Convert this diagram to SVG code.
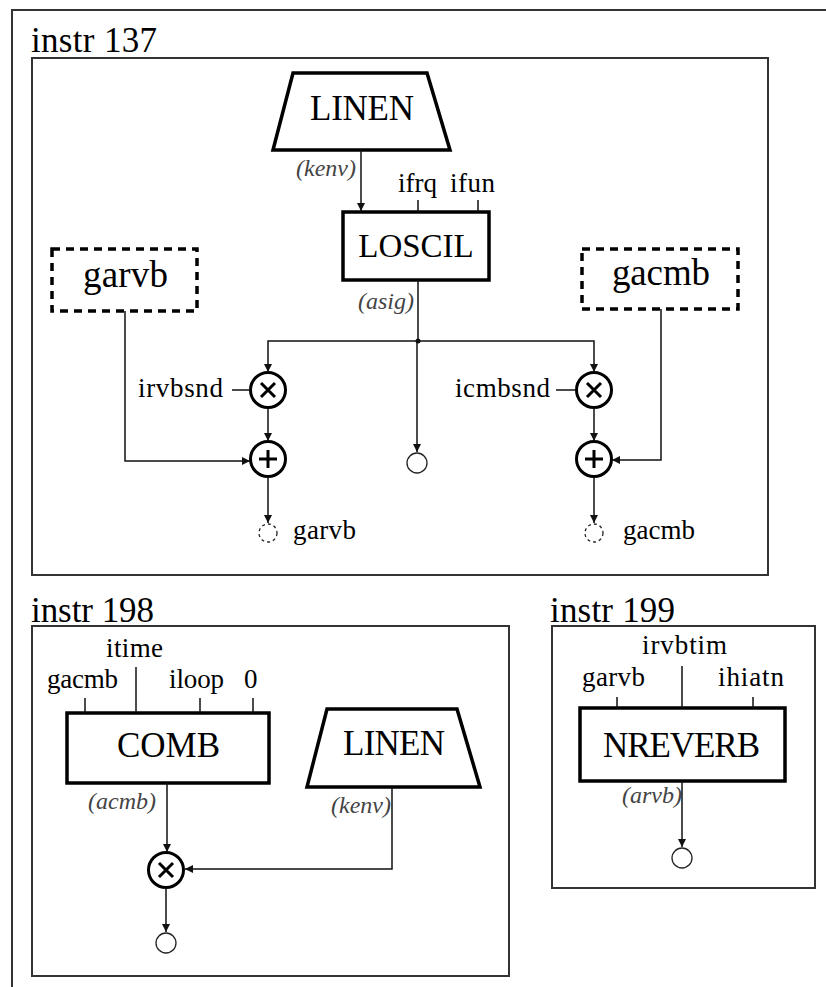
<svg xmlns="http://www.w3.org/2000/svg" width="826" height="987" viewBox="0 0 826 987">
<style>
.frame{fill:none;stroke:#333;stroke-width:2}
.box{fill:#fff;stroke:#000;stroke-width:3.5}
.dash{fill:#fff;stroke:#000;stroke-width:3.5;stroke-dasharray:8 6}
.op{fill:#fff;stroke:#000;stroke-width:3}
.sym{stroke:#000;stroke-width:3;fill:none}
.out{fill:#fff;stroke:#222;stroke-width:1.3}
.outd{fill:#fff;stroke:#222;stroke-width:1.3;stroke-dasharray:3 3}
.tick{stroke:#111;stroke-width:1.5}
.big{font-family:"Liberation Serif",serif;font-size:35px;fill:#000}
.lbl{font-family:"Liberation Serif",serif;font-size:27px;fill:#000}
.var{font-family:"Liberation Serif",serif;font-size:24px;font-style:italic;fill:#444}
.wire{fill:none;stroke:#111;stroke-width:1.5;marker-end:url(#arr)}
.plain{fill:none;stroke:#111;stroke-width:1.5}
</style>
<defs>
<marker id="arr" markerWidth="8" markerHeight="8" refX="8" refY="4" orient="auto" markerUnits="userSpaceOnUse">
<path d="M0,0 L8,4 L0,8 z" fill="#111"/>
</marker>
</defs>

<path id="outer-frame" class="frame" d="M12,987 V10 H826"/>

<!-- instr 137 -->
<g id="instr137">
<rect class="frame" x="32" y="58" width="736" height="517"/>
<text class="big" x="31" y="52" textLength="126">instr 137</text>
</g>
<g id="linen1">
<polygon class="box" points="293,73 427,73 450,150 273,150"/>
<text class="big" x="310" y="120" textLength="104">LINEN</text>
<text class="var" x="296" y="176">(kenv)</text>
</g>
<g id="loscil">
<rect class="box" x="343" y="212" width="146" height="68"/>
<text class="big" x="416" y="257" text-anchor="middle" style="font-size:33px">LOSCIL</text>
<text class="lbl" x="398" y="192" textLength="39">ifrq</text>
<text class="lbl" x="450" y="192" textLength="45">ifun</text>
<line class="tick" x1="418" y1="200" x2="418" y2="212"/>
<line class="tick" x1="478" y1="200" x2="478" y2="212"/>
<text class="var" x="358" y="309">(asig)</text>
</g>
<g id="garvb-in">
<rect class="dash" x="52" y="249" width="145" height="62"/>
<text class="big" x="83" y="287" textLength="85" style="font-size:37px">garvb</text>
</g>
<g id="gacmb-in">
<rect class="dash" x="582" y="249" width="156" height="60"/>
<text class="big" x="612" y="285" textLength="98" style="font-size:37px">gacmb</text>
</g>
<g id="mul1">
<circle class="op" cx="268" cy="390" r="17.5"/>
<path class="sym" d="M261,383 L275,397 M275,383 L261,397"/>
<text class="lbl" x="138" y="397" textLength="85">irvbsnd</text>
<line class="tick" x1="232" y1="390" x2="250" y2="390"/>
</g>
<g id="add1">
<circle class="op" cx="268" cy="459" r="17.5"/>
<path class="sym" d="M259,459 H277 M268,450 V468"/>
</g>
<g id="out-garvb">
<circle class="outd" cx="268" cy="533" r="9"/>
<text class="lbl" x="293" y="539" textLength="63">garvb</text>
</g>
<g id="mul2">
<circle class="op" cx="594" cy="390" r="17.5"/>
<path class="sym" d="M587,383 L601,397 M601,383 L587,397"/>
<text class="lbl" x="455" y="397" textLength="95">icmbsnd</text>
<line class="tick" x1="556" y1="390" x2="576" y2="390"/>
</g>
<g id="add2">
<circle class="op" cx="594" cy="459" r="17.5"/>
<path class="sym" d="M585,459 H603 M594,450 V468"/>
</g>
<g id="out-gacmb">
<circle class="outd" cx="594" cy="533" r="9"/>
<text class="lbl" x="623" y="539" textLength="72">gacmb</text>
</g>
<g id="out-mid">
<circle class="out" cx="417" cy="463" r="10"/>
</g>

<!-- instr 198 -->
<g id="instr198">
<rect class="frame" x="32" y="626" width="477" height="350"/>
<text class="big" x="31" y="622" textLength="123">instr 198</text>
</g>
<g id="comb">
<rect class="box" x="67" y="713" width="202" height="70"/>
<text class="big" x="117" y="757" textLength="103">COMB</text>
<text class="lbl" x="47" y="688" textLength="71">gacmb</text>
<text class="lbl" x="106" y="657" textLength="57">itime</text>
<text class="lbl" x="169" y="688" textLength="55">iloop</text>
<text class="lbl" x="244" y="688">0</text>
<line class="tick" x1="85" y1="698" x2="85" y2="713"/>
<line class="tick" x1="136" y1="667" x2="136" y2="713"/>
<line class="tick" x1="200" y1="698" x2="200" y2="713"/>
<line class="tick" x1="253" y1="698" x2="253" y2="713"/>
<text class="var" x="88" y="809">(acmb)</text>
</g>
<g id="linen2">
<polygon class="box" points="327,709 457,709 480,787 307,787"/>
<text class="big" x="343" y="755" textLength="102">LINEN</text>
<text class="var" x="331" y="813">(kenv)</text>
</g>
<g id="mul3">
<circle class="op" cx="166" cy="870" r="17.5"/>
<path class="sym" d="M159,863 L173,877 M173,863 L159,877"/>
</g>
<g id="out-198">
<circle class="out" cx="166" cy="943" r="10"/>
</g>

<!-- instr 199 -->
<g id="instr199">
<rect class="frame" x="552" y="626" width="263" height="262"/>
<text class="big" x="550" y="622" textLength="125">instr 199</text>
</g>
<g id="nreverb">
<rect class="box" x="580" y="708" width="205" height="73"/>
<text class="big" x="603" y="757" textLength="157">NREVERB</text>
<text class="lbl" x="582" y="686" textLength="63">garvb</text>
<text class="lbl" x="642" y="654" textLength="85">irvbtim</text>
<text class="lbl" x="718" y="686" textLength="66">ihiatn</text>
<line class="tick" x1="617" y1="697" x2="617" y2="708"/>
<line class="tick" x1="682" y1="666" x2="682" y2="708"/>
<line class="tick" x1="753" y1="697" x2="753" y2="708"/>
<text class="var" x="622" y="803">(arvb)</text>
</g>
<g id="out-199">
<circle class="out" cx="682" cy="858" r="10"/>
</g>

<g id="connectors">
<path class="wire" d="M361,150 V211"/>
<path class="plain" d="M418,280 V341"/>
<circle cx="418" cy="341" r="2.5" fill="#111"/>
<path class="wire" d="M418,341 H268 V372"/>
<path class="wire" d="M418,341 H594 V372"/>
<path class="wire" d="M417,341 V452"/>
<path class="wire" d="M268,408 V441"/>
<path class="wire" d="M125,311 V461 H250"/>
<path class="wire" d="M268,477 V523"/>
<path class="wire" d="M594,408 V441"/>
<path class="wire" d="M661,309 V460 H612"/>
<path class="wire" d="M594,477 V523"/>
<path class="wire" d="M167,783 V852"/>
<path class="wire" d="M392,787 V869 H185"/>
<path class="wire" d="M166,888 V932"/>
<path class="wire" d="M682,781 V847"/>
</g>
</svg>
